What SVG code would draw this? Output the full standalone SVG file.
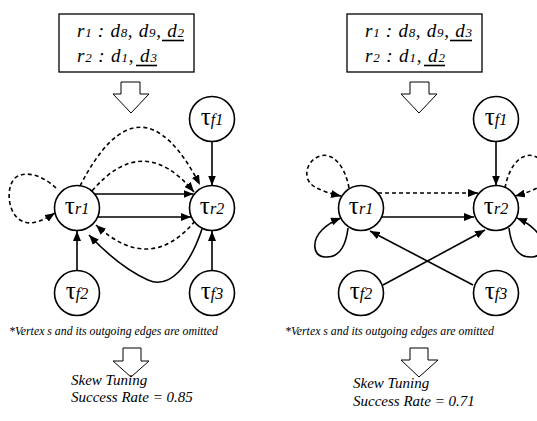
<svg xmlns="http://www.w3.org/2000/svg" width="537" height="421" viewBox="0 0 537 421">
<style>
text{font-family:"Liberation Serif","Times New Roman",serif;fill:#000}
.box{fill:#fff;stroke:#000;stroke-width:1.3}
.bt{font-size:19px;font-style:italic}
.bs{font-size:13px}
.ul{stroke:#000;stroke-width:1.6}
.harrow{fill:#fff;stroke:#000;stroke-width:1}
.node circle{fill:#fff;stroke:#000;stroke-width:1.6}
.lbl{text-anchor:middle}
.tau{font-size:25px;font-style:normal}
.sub{font-size:16px;font-style:italic}
.e{fill:none;stroke:#000;stroke-width:1.6;marker-end:url(#ah)}
.d{stroke-dasharray:4 3}
.note{font-size:11.8px;font-style:italic}
.res{font-size:15px;font-style:italic}
</style>
<defs>
<marker id="ah" viewBox="0 0 10 8" refX="10" refY="4" markerWidth="10" markerHeight="8" orient="auto" markerUnits="userSpaceOnUse">
<path d="M0,0 L10,4 L0,8 z" fill="#000"/>
</marker>
</defs>
<rect width="537" height="421" fill="#fff"/>

<!-- Left panel -->
<g id="left-box">
<rect class="box" x="59" y="14" width="135" height="58"/>
<text class="bt" x="77" y="37" textLength="107" lengthAdjust="spacing">r<tspan class="bs">1</tspan> : d<tspan class="bs">8</tspan>, d<tspan class="bs">9</tspan>, d<tspan class="bs">2</tspan></text>
<text class="bt" x="77" y="62" textLength="80" lengthAdjust="spacing">r<tspan class="bs">2</tspan> : d<tspan class="bs">1</tspan>, d<tspan class="bs">3</tspan></text>
<line class="ul" x1="162" y1="40.5" x2="184" y2="40.5"/>
<line class="ul" x1="136" y1="65.5" x2="157" y2="65.5"/>
</g>
<path class="harrow" d="M121,82 L140,82 L140,94 L149,94 L131,113 L113,94 L121,94 Z"/>

<g id="connectors-left">
<path class="e" d="M212,141.5 L212,185.5"/>
<path class="e" d="M77,270.5 L77,231"/>
<path class="e" d="M212,270.5 L212,231"/>
<path class="e" d="M95,194 L193.5,194"/>
<path class="e" d="M98,217 L191,217"/>
<path class="e" d="M202,229 C190,265 170,290 148,280 C128,271 106,253 89,235"/>
<path class="e d" d="M195,221 Q150,275 96,225"/>
<path class="e d" d="M92,191 Q143,131 194,192"/>
<path class="e d" d="M80,186 Q140,69 200,185"/>
<path class="e d" d="M56,188 C42,175 25,170 15,178 C5,188 8,215 22,221 C32,226 44,220 55,213"/>
</g>

<g id="L-tr1" class="node"><circle cx="77" cy="208" r="22.5"/><text class="lbl" x="77" y="214"><tspan class="tau">τ</tspan><tspan class="sub">r1</tspan></text></g>
<g id="L-tr2" class="node"><circle cx="212" cy="208" r="22.5"/><text class="lbl" x="212" y="214"><tspan class="tau">τ</tspan><tspan class="sub">r2</tspan></text></g>
<g id="L-tf1" class="node"><circle cx="212" cy="119" r="22.5"/><text class="lbl" x="212" y="125"><tspan class="tau">τ</tspan><tspan class="sub">f1</tspan></text></g>
<g id="L-tf2" class="node"><circle cx="77" cy="293" r="22.5"/><text class="lbl" x="77" y="299"><tspan class="tau">τ</tspan><tspan class="sub">f2</tspan></text></g>
<g id="L-tf3" class="node"><circle cx="212" cy="293" r="22.5"/><text class="lbl" x="212" y="299"><tspan class="tau">τ</tspan><tspan class="sub">f3</tspan></text></g>

<text class="note" x="9" y="335">*Vertex s and its outgoing edges are omitted</text>
<path class="harrow" d="M123,348 L141,348 L141,361 L149,361 L131,377 L113,361 L123,361 Z"/>
<text class="res" x="71" y="385">Skew Tuning</text>
<text class="res" x="71" y="402">Success Rate = 0.85</text>

<!-- Right panel -->
<g id="right-box">
<rect class="box" x="347" y="14" width="135" height="58"/>
<text class="bt" x="365" y="37" textLength="107" lengthAdjust="spacing">r<tspan class="bs">1</tspan> : d<tspan class="bs">8</tspan>, d<tspan class="bs">9</tspan>, d<tspan class="bs">3</tspan></text>
<text class="bt" x="365" y="62" textLength="80" lengthAdjust="spacing">r<tspan class="bs">2</tspan> : d<tspan class="bs">1</tspan>, d<tspan class="bs">2</tspan></text>
<line class="ul" x1="450" y1="40.5" x2="472" y2="40.5"/>
<line class="ul" x1="424" y1="65.5" x2="445" y2="65.5"/>
</g>
<path class="harrow" d="M410,82 L429,82 L429,94 L437,94 L419,113 L401,94 L410,94 Z"/>

<g id="connectors-right">
<path class="e" d="M496,141.5 L496,185.5"/>
<path class="e d" d="M378,193 L478,193"/>
<path class="e" d="M382,217 L474,217"/>
<path class="e" d="M383,285 L485,230"/>
<path class="e" d="M473,285 L370,231"/>
<path class="e d" d="M349,188 C345,165 332,152 320,156 C305,161 302,180 315,187 C322,191 331,194 341,196"/>
<path class="e" d="M348,228 C346,245 340,258 325,257 C312,256 312,240 322,230 C327,225 333,221 341,218"/>
<path class="e d" d="M505,188 C509,165 522,152 534,156 C549,161 552,180 539,187 C532,191 523,194 515,196"/>
<path class="e" d="M509,228 C511,245 517,258 532,257 C545,256 545,240 535,230 C530,225 524,221 517,218"/>
</g>

<g id="R-tr1" class="node"><circle cx="361" cy="208" r="22.5"/><text class="lbl" x="361" y="214"><tspan class="tau">τ</tspan><tspan class="sub">r1</tspan></text></g>
<g id="R-tr2" class="node"><circle cx="496" cy="208" r="22.5"/><text class="lbl" x="496" y="214"><tspan class="tau">τ</tspan><tspan class="sub">r2</tspan></text></g>
<g id="R-tf1" class="node"><circle cx="496" cy="119" r="22.5"/><text class="lbl" x="496" y="125"><tspan class="tau">τ</tspan><tspan class="sub">f1</tspan></text></g>
<g id="R-tf2" class="node"><circle cx="361" cy="293" r="22.5"/><text class="lbl" x="361" y="299"><tspan class="tau">τ</tspan><tspan class="sub">f2</tspan></text></g>
<g id="R-tf3" class="node"><circle cx="496" cy="293" r="22.5"/><text class="lbl" x="496" y="299"><tspan class="tau">τ</tspan><tspan class="sub">f3</tspan></text></g>

<text class="note" x="285" y="335">*Vertex s and its outgoing edges are omitted</text>
<path class="harrow" d="M410,348 L428,348 L428,360 L438,360 L419,377 L401,360 L410,360 Z"/>
<text class="res" x="353" y="388">Skew Tuning</text>
<text class="res" x="353" y="406">Success Rate = 0.71</text>
</svg>
